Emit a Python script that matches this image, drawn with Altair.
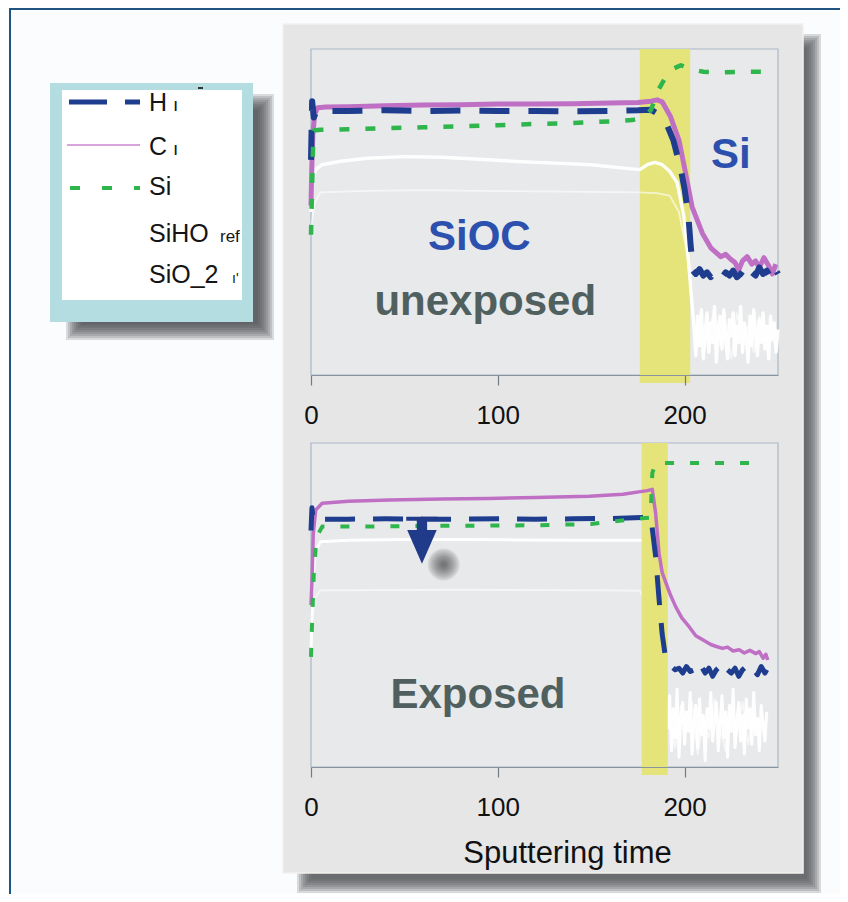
import altair as alt
import pandas as pd

FONT = "Liberation Sans"
W, H1, H2 = 467, 326, 324

# ---------------- data (time in s, normalised intensity 0..1) ----------------
ticks = [0, 100, 200]
x_title = "Sputtering time"
legend_labels = ["H", "C", "Si", "SiHO", "SiO_2"]

# top panel: unexposed
H_top_t = [0, 0.6, 1.5, 3, 20, 40, 60, 80, 100, 120, 140, 160, 175, 182, 186, 190, 194, 198, 200, 202, 203.2,
           204.5, 206, 208, 210, 212, 214, 216, 218, 220, 222, 224, 226, 228, 230, 232, 234, 236, 238, 240, 242,
           244, 246, 248, 250]
H_top_v = [0.66, 0.84, 0.79, 0.81, 0.81, 0.812, 0.81, 0.811, 0.81, 0.81, 0.809, 0.81, 0.812, 0.814, 0.80, 0.775,
           0.72, 0.63, 0.57, 0.49, 0.40, 0.32, 0.31, 0.325, 0.305, 0.315, 0.30, 0.32, 0.31, 0.30, 0.315, 0.305,
           0.32, 0.30, 0.31, 0.325, 0.30, 0.315, 0.305, 0.33, 0.31, 0.32, 0.30, 0.33, 0.31]
C_top_t = [0, 0.4, 1, 2, 3.5, 8, 20, 40, 60, 80, 100, 120, 140, 160, 175, 182, 185.3, 188, 192.5, 197, 200.5,
           204, 209.5, 214, 219.3, 222, 224.7, 227, 229, 231, 233.5, 236, 238, 240, 242.5, 245, 247, 248.8]
C_top_v = [0.52, 0.63, 0.74, 0.80, 0.82, 0.822, 0.823, 0.826, 0.828, 0.829, 0.831, 0.831, 0.832, 0.834, 0.836,
           0.84, 0.844, 0.838, 0.792, 0.72, 0.62, 0.516, 0.435, 0.39, 0.363, 0.37, 0.355, 0.345, 0.322, 0.35,
           0.363, 0.34, 0.35, 0.33, 0.36, 0.335, 0.31, 0.34]
Si_top_t = [0, 0.5, 1, 1.5, 5, 20, 40, 60, 80, 100, 120, 140, 160, 172, 178, 182, 186, 190, 194, 198, 202, 210,
            220, 230, 242]
Si_top_v = [0.43, 0.55, 0.68, 0.75, 0.752, 0.754, 0.757, 0.76, 0.763, 0.766, 0.77, 0.773, 0.778, 0.782, 0.79,
            0.813, 0.875, 0.915, 0.94, 0.95, 0.94, 0.93, 0.928, 0.93, 0.93]
SiHO_top_t = [0, 1, 2.5, 6, 15, 30, 50, 70, 90, 110, 130, 150, 170, 176, 180, 184, 188, 192, 196, 199.5, 202,
              203.5, 205, 206, 207, 208, 209, 210, 211, 212, 213, 214, 215, 216, 217, 218, 219, 220, 221, 222,
              223, 224, 225, 226, 227, 228, 229, 230, 231, 232, 233, 234, 235, 236, 237, 238, 239, 240, 241,
              242, 243, 244, 245, 246, 247, 248, 249, 250]
SiHO_top_v = [0.50, 0.60, 0.63, 0.645, 0.655, 0.665, 0.67, 0.668, 0.662, 0.655, 0.65, 0.645, 0.633, 0.63,
              0.645, 0.652, 0.645, 0.625, 0.59, 0.49, 0.36, 0.25,
              0.15, 0.06, 0.18, 0.09, 0.2, 0.05, 0.13, 0.19, 0.07, 0.16, 0.1, 0.21, 0.04, 0.14, 0.18, 0.08,
              0.2, 0.11, 0.05, 0.17, 0.12, 0.19, 0.06, 0.15, 0.1, 0.21, 0.07, 0.16, 0.12, 0.04, 0.18, 0.09,
              0.2, 0.13, 0.06, 0.17, 0.1, 0.19, 0.08, 0.15, 0.05, 0.18, 0.11, 0.16, 0.07, 0.14]
SiO2_top_t = [0, 2, 5, 30, 60, 90, 120, 150, 175, 185, 192, 197, 201, 204, 206, 208, 210, 213, 216, 219, 222,
              225, 228, 231, 234, 237, 240, 243, 246, 249]
SiO2_top_v = [0.45, 0.53, 0.56, 0.565, 0.567, 0.565, 0.563, 0.562, 0.56, 0.558, 0.55, 0.5, 0.38, 0.22, 0.1,
              0.17, 0.06, 0.14, 0.2, 0.09, 0.16, 0.05, 0.19, 0.11, 0.15, 0.07, 0.18, 0.1, 0.13, 0.08]

# bottom panel: exposed
H_bot_t = [0, 0.5, 1.2, 2.5, 20, 40, 60, 80, 100, 120, 140, 160, 177, 182, 184.5, 186.3, 188, 190, 191, 193,
           195, 197, 199, 201, 203, 205, 207, 209, 211, 213, 215, 217, 219, 221, 223, 225, 227, 229, 231, 233,
           235, 237, 239, 241, 243, 244]
H_bot_v = [0.73, 0.80, 0.76, 0.765, 0.765, 0.766, 0.765, 0.765, 0.766, 0.765, 0.766, 0.767, 0.77, 0.77, 0.65,
           0.52, 0.41, 0.33, 0.32, 0.31, 0.30, 0.305, 0.29, 0.31, 0.295, 0.30, 0.285, 0.31, 0.29, 0.305, 0.28,
           0.30, 0.31, 0.285, 0.30, 0.29, 0.305, 0.28, 0.30, 0.31, 0.29, 0.30, 0.285, 0.31, 0.29, 0.30]
C_bot_t = [0, 0.5, 1.2, 2.5, 6, 20, 42, 70, 95, 120, 149, 167, 180, 182.7, 184.5, 186.3, 188, 190, 192.5, 195.2,
           198.5, 202.4, 206, 211.3, 214, 217, 220.3, 223, 226, 229.2, 232, 235, 238.1, 240, 242, 243.5, 244.5]
C_bot_v = [0.50, 0.57, 0.72, 0.793, 0.814, 0.82, 0.824, 0.827, 0.829, 0.832, 0.836, 0.842, 0.853, 0.857, 0.783,
           0.66, 0.6, 0.568, 0.53, 0.495, 0.46, 0.433, 0.405, 0.387, 0.378, 0.372, 0.366, 0.37, 0.358, 0.362,
           0.352, 0.36, 0.35, 0.356, 0.336, 0.348, 0.33]
Si_bot_t = [0, 0.6, 1.5, 3, 6, 30, 60, 90, 120, 150, 177.4, 181.8, 182.7, 184.5, 200, 220, 236]
Si_bot_v = [0.34, 0.45, 0.6, 0.71, 0.742, 0.742, 0.744, 0.745, 0.746, 0.75, 0.768, 0.77, 0.907, 0.938, 0.938,
            0.938, 0.938]
SiHO_bot_t = [0, 0.8, 2, 5, 20, 50, 80, 110, 140, 170, 177, 180, 182, 184, 186, 188, 190,
              191, 192, 193, 194, 195, 196, 197, 198, 199, 200, 201, 202, 203, 204, 205, 206, 207, 208, 209,
              210, 211, 212, 213, 214, 215, 216, 217, 218, 219, 220, 221, 222, 223, 224, 225, 226, 227, 228,
              229, 230, 231, 232, 233, 234, 235, 236, 237, 238, 239, 240, 241, 242, 243, 244]
SiHO_bot_v = [0.35, 0.55, 0.66, 0.695, 0.70, 0.702, 0.702, 0.701, 0.70, 0.70, 0.70, 0.69, 0.62, 0.5, 0.38,
              0.27, 0.2,
              0.12, 0.22, 0.05, 0.18, 0.09, 0.24, 0.03, 0.15, 0.2, 0.07, 0.17, 0.11, 0.23, 0.04, 0.14, 0.19,
              0.06, 0.21, 0.1, 0.16, 0.02, 0.18, 0.12, 0.23, 0.08, 0.15, 0.2, 0.05, 0.13, 0.22, 0.09, 0.17,
              0.03, 0.19, 0.11, 0.24, 0.06, 0.14, 0.2, 0.08, 0.16, 0.04, 0.21, 0.12, 0.18, 0.07, 0.23, 0.1,
              0.15, 0.05, 0.19, 0.13, 0.08, 0.17]
SiO2_bot_t = [0, 2, 5, 40, 80, 120, 160, 176, 180, 183, 186, 189, 192, 195, 198, 201, 204, 207, 210, 213, 216,
              219, 222, 225, 228, 231, 234, 237, 240, 243]
SiO2_bot_v = [0.42, 0.52, 0.545, 0.546, 0.547, 0.546, 0.545, 0.544, 0.5, 0.35, 0.2, 0.1, 0.16, 0.06, 0.19,
              0.11, 0.2, 0.04, 0.15, 0.09, 0.21, 0.12, 0.05, 0.18, 0.1, 0.2, 0.07, 0.16, 0.11, 0.14]

# interface bands (start, end)
band_top = [176, 203]
band_bot = [177, 191]

# annotations: text, time, intensity
ann_top_text = ["SiOC", "unexposed", "Si"]
ann_top_t = [90.1, 93.3, 224.7]
ann_top_v = [0.383, 0.184, 0.634]
ann_bot_text = ["Exposed"]
ann_bot_t = [89.4]
ann_bot_v = [0.181]
arrow_t, arrow_v = [59.4], [0.70]
blob_t, blob_v = [71.0], [0.625]

# ---------------- styling ----------------
NAVY = "#1f3d8f"
PINK = "#bf70c5"
GREEN = "#2eb54c"
BLUE_TXT = "#2c50ad"
SLATE = "#50605f"
YELLOW = "#e5e47b"
DUMMY = alt.Data(values=[{"k": 0}])

xscale = alt.Scale(domain=[0, 250], nice=False)
yscale = alt.Scale(domain=[0, 1], nice=False, zero=False)


def xaxis():
    return alt.Axis(values=ticks, grid=False, tickSize=10, tickColor="#6f7b86", tickWidth=1.2,
                    domainColor="#8794a0", domainWidth=1.2, labelFont=FONT, labelFontSize=26,
                    labelColor="#111111", labelPadding=17, labelFlush=False, zindex=1,
                    titleFont=FONT, titleFontSize=31, titleFontWeight="normal", titleColor="#111111",
                    titleX=256, titleY=95, titleAlign="center", titleBaseline="alphabetic")


def X(field, title):
    if title:
        return alt.X(field, scale=xscale, axis=xaxis(), title=title)
    return alt.X(field, scale=xscale, axis=xaxis(), title=None)


def Y(field):
    return alt.Y(field, scale=yscale, axis=None)


def rect(x0, x1, y0, y1, fill, opacity=1.0, stroke=None, sw=0.0):
    kw = dict(fill=fill, opacity=opacity)
    if stroke:
        kw.update(stroke=stroke, strokeWidth=sw)
    else:
        kw.update(strokeWidth=0)
    return alt.Chart(DUMMY).mark_rect(**kw).encode(
        x=alt.value(x0), x2=alt.value(x1), y=alt.value(y0), y2=alt.value(y1))


def blurred(x0, x1, y0, y1, color, steps, op):
    # soft-edged shadow: stacked translucent rectangles, growing inwards
    return [rect(x0 - e, x1 + e, y0 - e, y1 + e, color, op) for e in steps]


def vtext(s, x, y, size, color="#151515", weight="normal"):
    return alt.Chart(DUMMY).mark_text(text=s, align="left", baseline="alphabetic", font=FONT,
                                      fontSize=size, fontWeight=weight, color=color).encode(
        x=alt.value(x), y=alt.value(y))


def vrule(x0, x1, y, color, width, dash=None):
    kw = dict(color=color, strokeWidth=width)
    if dash:
        kw["strokeDash"] = dash
    return alt.Chart(DUMMY).mark_rule(**kw).encode(x=alt.value(x0), x2=alt.value(x1), y=alt.value(y))


def series(ts, vs, color, width, title, dash=None, opacity=1.0):
    kw = dict(color=color, strokeWidth=width, opacity=opacity, strokeJoin="round")
    if dash:
        kw["strokeDash"] = dash
    df = pd.DataFrame({"t": ts, "v": vs})
    return alt.Chart(df).mark_line(**kw).encode(x=X("t:Q", title), y=Y("v:Q"))


def band(b, h, title):
    df = pd.DataFrame({"a": [b[0]], "b": [b[1]]})
    return alt.Chart(df).mark_rect(fill=YELLOW, strokeWidth=0).encode(
        x=X("a:Q", title), x2=alt.X2("b:Q"), y=alt.value(0), y2=alt.value(h + 8))


def annotations(texts, ts, vs, colors, title):
    df = pd.DataFrame({"t": ts, "v": vs, "s": texts, "c": colors})
    return alt.Chart(df).mark_text(font=FONT, fontSize=42, fontWeight="bold", baseline="alphabetic",
                                   align="center").encode(
        x=X("t:Q", title), y=Y("v:Q"), text="s:N", color=alt.Color("c:N", scale=None))


SHADOW_STEPS = (9, 7, 5, 3, 1, -1, -3, -5)

# ---------------- top panel with page decorations ----------------
deco = [rect(-303, 529, -41, 845, "#fbfcfd"),
        rect(-301, 529, -41, -39, "#1f5580"),
        rect(-302, -300, -41, 845, "#1f5580")]
deco += blurred(-5, 501, -6, 835, "#4e4e53", SHADOW_STEPS, 0.2)
deco.append(rect(-28, 492, -25, 824, "#e6e6e7", stroke="#f4f1ee", sw=1.5))
deco += blurred(-234, -48, 56, 280, "#46464c", (11, 9, 7, 5, 3, 1, -1, -3, -5), 0.18)
deco.append(rect(-261, -58, 34, 273, "#b3dde1"))
deco.append(rect(-249, -69, 41, 251, "#ffffff"))
deco.append(rect(-113, -108, 38, 40, "#333333"))
legend = [vrule(-242, -171, 53, NAVY, 5, [38, 18]),
          vrule(-244, -171, 96, "#d9a3dc", 2),
          vrule(-241, -171, 139, GREEN, 4, [10, 22])]
lab_y = [62, 106, 146, 193, 234]
for lab, yy in zip(legend_labels, lab_y):
    legend.append(vtext(lab, -162, yy, 25))
legend += [vtext("ı", -138, 62, 19), vtext("ı", -138, 106, 19),
           vtext("ref", -91, 193, 17), vtext("ı'", -79, 234, 14)]

top = alt.layer(
    *deco, *legend,
    rect(0, W, 0, H1, "#e8e9ea", stroke="#aab8c5", sw=1.2),
    band(band_top, H1, None),
    series(SiO2_top_t, SiO2_top_v, "#ffffff", 1.8, None, opacity=0.6),
    series(SiHO_top_t, SiHO_top_v, "#ffffff", 3.4, None, opacity=0.95),
    series(C_top_t, C_top_v, PINK, 5, None),
    series(H_top_t, H_top_v, NAVY, 6, None, dash=[30, 19]),
    series(Si_top_t, Si_top_v, GREEN, 4.5, None, dash=[10, 16]),
    annotations(ann_top_text, ann_top_t, ann_top_v, [BLUE_TXT, SLATE, BLUE_TXT], None),
).properties(width=W, height=H1)

# ---------------- bottom panel ----------------
arrow_path = ("M-0.67,-1 L0.67,-1 L0.67,-0.83 L0.22,-0.83 L0.22,-0.43 L0.63,-0.43 L0,1 "
              "L-0.63,-0.43 L-0.22,-0.43 L-0.22,-0.83 L-0.67,-0.83 Z")
blob_df = pd.DataFrame({"t": blob_t, "v": blob_v})
blob_layers = [alt.Chart(blob_df).mark_circle(size=s, opacity=0.1, color="#2a2a2a").encode(
    x=X("t:Q", x_title), y=Y("v:Q")) for s in [1020, 800, 600, 430, 290, 170, 80, 25]]
arrow = alt.Chart(pd.DataFrame({"t": arrow_t, "v": arrow_v})).mark_point(
    shape=arrow_path, filled=True, size=2200, color="#1f3b8a", opacity=1, strokeWidth=0).encode(
    x=X("t:Q", x_title), y=Y("v:Q"))

bottom = alt.layer(
    rect(0, W, 0, H2, "#e8e9ea", stroke="#aab8c5", sw=1.2),
    series(SiO2_bot_t, SiO2_bot_v, "#ffffff", 1.8, x_title, opacity=0.6),
    series(SiHO_bot_t, SiHO_bot_v, "#ffffff", 3.0, x_title, opacity=0.95),
    band(band_bot, H2, x_title),
    series(C_bot_t, C_bot_v, PINK, 3.5, x_title),
    series(H_bot_t, H_bot_v, NAVY, 5, x_title, dash=[30, 18]),
    series(Si_bot_t, Si_bot_v, GREEN, 4, x_title, dash=[9, 16]),
    annotations(ann_bot_text, ann_bot_t, ann_bot_v, [SLATE], x_title),
    *blob_layers,
    arrow,
).properties(width=W, height=H2)

chart = alt.vconcat(top, bottom, spacing=68, bounds="flush").properties(
    padding=0, background="#fbfcfd").configure_view(strokeWidth=0)

chart.save("out.html", embed_options={"renderer": "svg", "actions": False})
